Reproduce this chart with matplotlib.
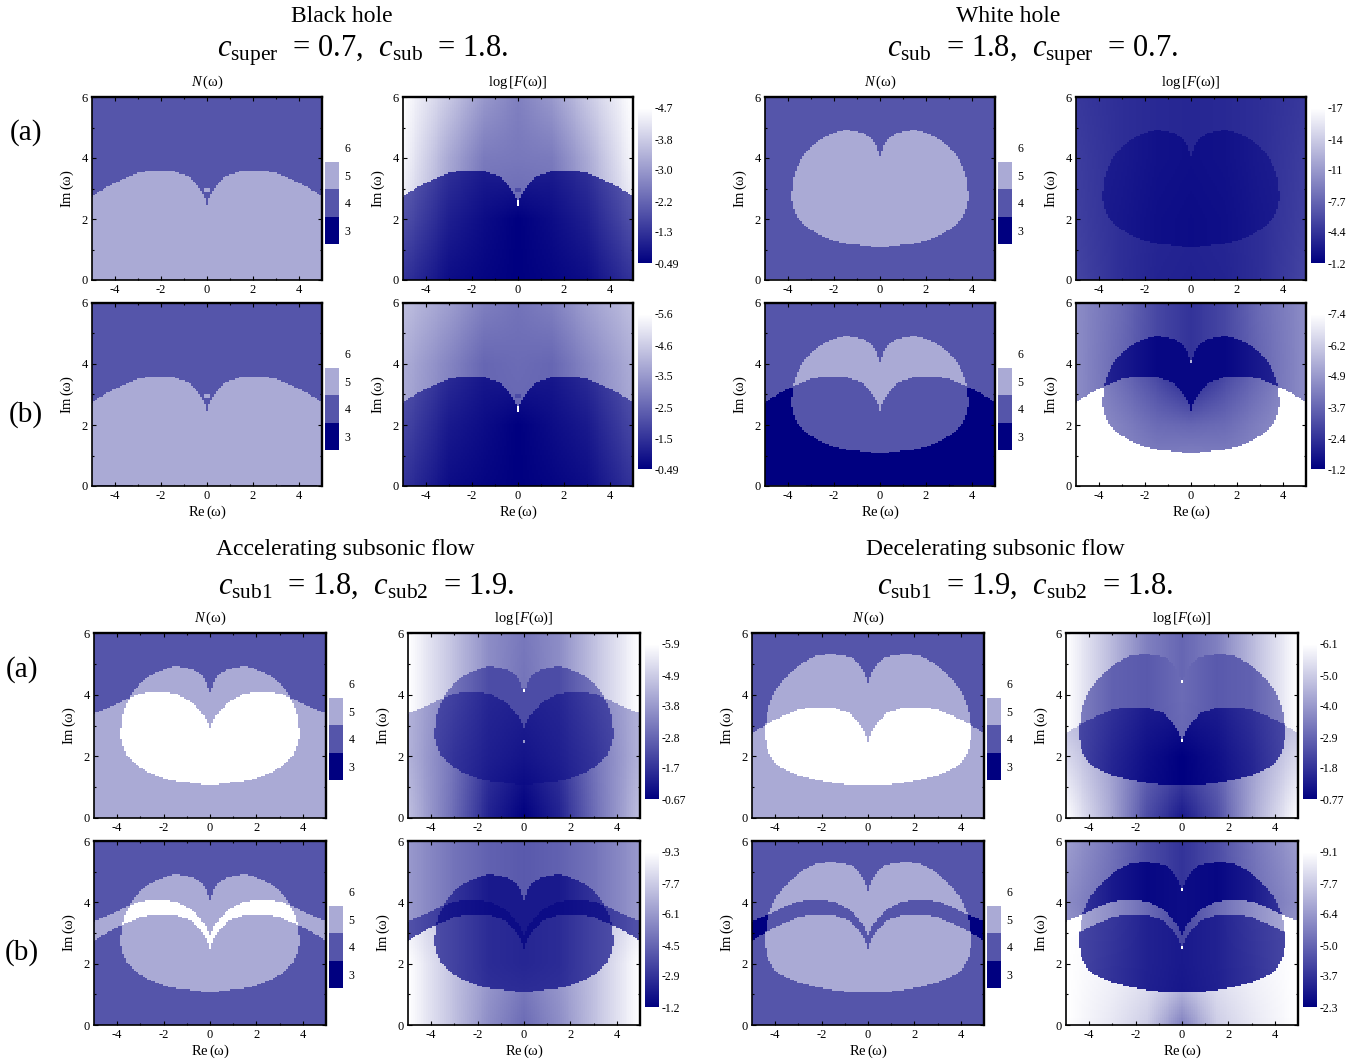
import numpy as np
import matplotlib
matplotlib.use("Agg")
import matplotlib.pyplot as plt
from matplotlib.cm import ScalarMappable
from matplotlib.colors import BoundaryNorm, LinearSegmentedColormap, ListedColormap, Normalize

plt.rcParams['font.family'] = ['Liberation Serif', 'DejaVu Serif']
plt.rcParams['mathtext.fontset'] = 'custom'
plt.rcParams['mathtext.rm'] = 'Liberation Serif'
plt.rcParams['mathtext.it'] = 'Liberation Serif:italic'
plt.rcParams['mathtext.fallback'] = 'stix'
plt.rcParams['axes.unicode_minus'] = False

W, H = 1361, 1061

## region outlines, right half only (mirrored in x)
arch_x = [0, .05, .1, .18, .26, .43, .87, 1.45, 1.9, 2.32, 3.04, 3.77, 4.35, 4.93, 5]
arch_low = [2.46, 2.62, 2.72, 2.85, 2.95, 3.14, 3.43, 3.56, 3.58, 3.59, 3.51, 3.27, 3.05, 2.78, 2.75]
arch_high = [2.93, 3.02, 3.12, 3.24, 3.31, 3.48, 3.8, 4.02, 4.08, 4.09, 4.03, 3.8, 3.58, 3.42, 3.4]

heart_x = [0, .03, .16, .37, .73, 1.1, 1.46, 1.85, 2.18, 2.76, 3.27, 3.6, 3.78, 3.84]
heart_top = [4.05, 4.12, 4.43, 4.65, 4.81, 4.88, 4.92, 4.87, 4.77, 4.53, 4.15, 3.71, 3.28, 2.9]
heart_bot = [1.09, 1.09, 1.09, 1.1, 1.14, 1.17, 1.2, 1.26, 1.33, 1.53, 1.78, 2.06, 2.4, 2.6]

big_x = [0, .07, .22, .43, .72, 1.15, 1.72, 2.23, 2.73, 3.23, 3.66, 4.02, 4.24, 4.38, 4.44]
big_top = [4.37, 4.58, 4.8, 5.02, 5.2, 5.29, 5.32, 5.26, 5.07, 4.8, 4.47, 4.1, 3.72, 3.3, 2.9]
big_bot = [1.06, 1.06, 1.06, 1.07, 1.08, 1.11, 1.17, 1.24, 1.33, 1.45, 1.6, 1.8, 2.03, 2.35, 2.6]

## colourbar labels
bh_a_ticks = ['-0.49', '-1.3', '-2.2', '-3.0', '-3.8', '-4.7']
bh_b_ticks = ['-0.49', '-1.5', '-2.5', '-3.5', '-4.6', '-5.6']
wh_a_ticks = ['-1.2', '-4.4', '-7.7', '-11', '-14', '-17']
wh_b_ticks = ['-1.2', '-2.4', '-3.7', '-4.9', '-6.2', '-7.4']
ac_a_ticks = ['-0.67', '-1.7', '-2.8', '-3.8', '-4.9', '-5.9']
ac_b_ticks = ['-1.2', '-2.9', '-4.5', '-6.1', '-7.7', '-9.3']
de_a_ticks = ['-0.77', '-1.8', '-2.9', '-4.0', '-5.0', '-6.1']
de_b_ticks = ['-2.3', '-3.7', '-5.0', '-6.4', '-7.7', '-9.1']

## N(w) in each region: key is (arches the point lies below, inside heart)
n_bh = {(0, 0): 4, (1, 0): 5}
n_wh_a = {(0, 0): 4, (0, 1): 5}
n_wh_b = {(0, 0): 4, (0, 1): 5, (1, 0): 3, (1, 1): 4}
n_ac_a = {(0, 0): 4, (0, 1): 5, (1, 0): 5, (1, 1): 6}
n_ac_b = {(0, 0): 4, (0, 1): 5, (1, 0): 5, (1, 1): 6, (2, 0): 4, (2, 1): 5}
n_de_a = {(0, 0): 4, (0, 1): 5, (1, 0): 5, (1, 1): 6}
n_de_b = {(0, 0): 4, (0, 1): 5, (1, 0): 3, (1, 1): 4, (2, 0): 4, (2, 1): 5}

## log F brightness (0 navy, 1 white), rows Im = 0,2,4,6, columns |Re| = 0,1.5,3,5
f_bh_a = {
    (0, 0): [[.4, .4, .6, .9], [.4, .42, .62, .9], [.47, .48, .66, .97], [.5, .6, .78, 1]],
    (1, 0): [[0, .02, .05, .2], [0, .05, .12, .32], [.15, .12, .2, .4], [.15, .12, .2, .4]],
}
f_bh_b = {
    (0, 0): [[.4, .4, .5, .65], [.4, .4, .5, .65], [.42, .4, .52, .68], [.45, .5, .62, .75]],
    (1, 0): [[0, .02, .05, .2], [0, .05, .1, .28], [.12, .1, .18, .35], [.12, .1, .18, .35]],
}
f_wh_a = {
    (0, 0): [[.13, .14, .18, .27], [.14, .15, .18, .25], [.15, .16, .18, .24], [.15, .16, .18, .22]],
    (0, 1): [[.05, .06, .09, .12], [.05, .06, .09, .12], [.06, .07, .1, .13], [.06, .07, .1, .13]],
}
f_wh_b = {
    (0, 0): [[.2, .28, .42, .55], [.2, .28, .42, .55], [.2, .28, .4, .55], [.2, .28, .42, .55]],
    (0, 1): [[.03, .03, .1, .2], [.03, .03, .1, .2], [.03, .03, .1, .2], [.03, .03, .1, .2]],
    (1, 0): [[1, 1, 1, 1], [1, 1, 1, 1], [1, 1, 1, 1], [1, 1, 1, 1]],
    (1, 1): [[.6, .55, .55, .6], [.4, .42, .5, .6], [.05, .25, .4, .6], [.05, .25, .4, .6]],
}
f_ac_a = {
    (0, 0): [[.45, .55, .75, 1], [.45, .55, .75, 1], [.45, .55, .75, 1], [.47, .55, .75, 1]],
    (0, 1): [[.3, .3, .45, .6], [.3, .3, .45, .6], [.3, .3, .45, .6], [.3, .3, .45, .6]],
    (1, 0): [[0, .13, .42, .75], [.1, .2, .45, .7], [.2, .3, .5, .7], [.2, .3, .5, .7]],
    (1, 1): [[0, .07, .18, .35], [.08, .12, .2, .35], [.13, .15, .25, .35], [.13, .15, .25, .35]],
}
f_ac_b = {
    (0, 0): [[.35, .38, .45, .6], [.35, .38, .45, .6], [.35, .38, .45, .6], [.35, .38, .45, .6]],
    (0, 1): [[.1, .1, .2, .3], [.1, .1, .2, .3], [.1, .1, .2, .3], [.1, .1, .2, .3]],
    (1, 0): [[.05, .05, .2, .32], [.05, .05, .2, .32], [.05, .05, .2, .32], [.05, .05, .2, .32]],
    (1, 1): [[.05, .05, .08, .12], [.05, .05, .08, .12], [.05, .05, .08, .12], [.05, .05, .08, .12]],
    (2, 0): [[.42, .55, .75, 1], [.5, .6, .75, 1], [.5, .6, .7, .9], [.5, .6, .7, .9]],
    (2, 1): [[.2, .2, .25, .35], [.15, .17, .26, .35], [.15, .17, .26, .35], [.15, .17, .26, .35]],
}
f_de_a = {
    (0, 0): [[.4, .5, .72, 1], [.4, .5, .72, 1], [.4, .5, .72, 1], [.4, .5, .72, 1]],
    (0, 1): [[.4, .35, .38, .55], [.4, .35, .38, .55], [.42, .35, .38, .55], [.42, .35, .38, .55]],
    (1, 0): [[.1, .3, .65, 1], [.3, .4, .62, .85], [.4, .45, .6, .68], [.4, .45, .6, .68]],
    (1, 1): [[0, .03, .12, .3], [0, .06, .15, .32], [.12, .12, .2, .32], [.12, .12, .2, .32]],
}
f_de_b = {
    (0, 0): [[.2, .3, .45, .62], [.2, .3, .45, .62], [.2, .3, .42, .55], [.2, .3, .45, .62]],
    (0, 1): [[.05, .03, .1, .25], [.05, .03, .1, .25], [.05, .03, .1, .25], [.05, .03, .1, .25]],
    (1, 0): [[1, 1, 1, 1], [1, 1, 1, 1], [1, 1, 1, 1], [1, 1, 1, 1]],
    (1, 1): [[.28, .42, .55, .7], [.28, .42, .55, .7], [.28, .42, .55, .7], [.28, .42, .55, .7]],
    (2, 0): [[.5, .8, .9, 1], [.85, .9, .95, 1], [.9, .93, .97, 1], [.9, .93, .97, 1]],
    (2, 1): [[.08, .12, .18, .25], [.1, .13, .2, .3], [.1, .13, .22, .3], [.1, .13, .22, .3]],
}

## bright specks on the Re = 0 column of the log F maps: (Im from, Im to, brightness)
spk_bh = [(2.45, 2.62, 1)]
spk_wh = [(4.03, 4.12, .7)]
spk_ac = [(4.07, 4.17, 1), (2.42, 2.5, .6)]
spk_de = [(4.38, 4.46, 1), (2.47, 2.58, 1)]

## the small square above the black hole cusp: Re half width, Im centre, Im half height
bh_square = (0.09, 2.95, 0.08)
bh_square_n = 5
bh_square_f = .3

## thin bottom-row flaw in some N maps: panel, step in N, |Re| from, |Re| to
edge_flaws = {('bh', 1): (-1, 3.2, 4.8), ('wh', 0): (1, 3.2, 5), ('wh', 1): (1, 3.2, 5)}

## panel rows: arches, heart outline, N map, F map, colourbar labels, specks
panels = {
    'bh': [([arch_low], None, n_bh, f_bh_a, bh_a_ticks, spk_bh),
           ([arch_low], None, n_bh, f_bh_b, bh_b_ticks, spk_bh)],
    'wh': [([], (heart_x, heart_top, heart_bot), n_wh_a, f_wh_a, wh_a_ticks, []),
           ([arch_low], (heart_x, heart_top, heart_bot), n_wh_b, f_wh_b, wh_b_ticks, spk_wh)],
    'ac': [([arch_high], (heart_x, heart_top, heart_bot), n_ac_a, f_ac_a, ac_a_ticks, spk_ac),
           ([arch_high, arch_low], (heart_x, heart_top, heart_bot), n_ac_b, f_ac_b, ac_b_ticks, [])],
    'de': [([arch_low], (big_x, big_top, big_bot), n_de_a, f_de_a, de_a_ticks, spk_de),
           ([arch_high, arch_low], (big_x, big_top, big_bot), n_de_b, f_de_b, de_b_ticks, spk_de)],
}

## pixel boxes of the axes
n_left = {'bh': (92, 322), 'wh': (765, 995), 'ac': (94, 326), 'de': (752, 984)}
f_left = {'bh': (403, 633), 'wh': (1076, 1306), 'ac': (408, 640), 'de': (1066, 1298)}
rows_y = {'bh': [(97, 280), (303, 486)], 'wh': [(97, 280), (303, 486)],
          'ac': [(633, 818), (841, 1025)], 'de': [(633, 818), (841, 1025)]}

cmap = LinearSegmentedColormap.from_list('navy_white', ['#000080', '#ffffff'])
n_cmap = ListedColormap(['#000080', '#5555aa', '#aaaad5', '#ffffff'])

fig = plt.figure(figsize=(W / 100, H / 100), dpi=100)


def box(x0, y0, x1, y1):
    return fig.add_axes([x0 / W, 1 - y1 / H, (x1 - x0) / W, (y1 - y0) / H])


gx = np.linspace(-5, 5, 121)
gy = np.linspace(0, 6, 121)
X, Y = np.meshgrid(gx, gy)
AX = np.abs(X)


def zones(arches, heart):
    below = np.zeros_like(X, dtype=int)
    for a in arches:
        below += Y < np.interp(AX, arch_x, a)
    inside = np.zeros_like(X, dtype=int)
    if heart is not None:
        hx, top, bot = heart
        inside = ((AX <= hx[-1]) & (Y <= np.interp(AX, hx, top)) & (Y >= np.interp(AX, hx, bot))).astype(int)
    return below, inside


tab_x = [0, 1.5, 3, 5]
tab_y = [0, 2, 4, 6]


def lookup(table):
    table = np.array(table)
    across = np.array([np.interp(AX, tab_x, r) for r in table])
    out = np.zeros_like(X)
    for j in range(X.shape[0]):
        for i in range(X.shape[1]):
            out[j, i] = np.interp(Y[j, i], tab_y, across[:, j, i])
    return out


def dress(ax, title, xlab):
    ax.set_xlim(-5, 5)
    ax.set_ylim(0, 6)
    ax.set_xticks([-4, -2, 0, 2, 4])
    ax.set_xticks([-3, -1, 1, 3], minor=True)
    ax.set_yticks([0, 2, 4, 6])
    ax.set_yticks([1, 3, 5], minor=True)
    ax.tick_params(which='both', direction='in', top=True, right=True, labelsize=9, pad=3, width=0.8)
    ax.tick_params(which='major', length=3)
    ax.tick_params(which='minor', length=1.5)
    for s in ax.spines.values():
        s.set_linewidth(1.2)
    ax.spines['top'].set_linewidth(1.7)
    ax.spines['right'].set_linewidth(1.7)
    if title:
        ax.set_title(title, fontsize=10.5, pad=8)
    ax.set_ylabel(r'Im$\,$($\mathrm{\omega}$)', fontsize=10.5, labelpad=4)
    if xlab:
        ax.set_xlabel(r'Re$\,$($\mathrm{\omega}$)', fontsize=10.5, labelpad=1)


for key in panels:
    for r, (arches, heart, n_map, f_map, ticks, specks) in enumerate(panels[key]):
        y0, y1 = rows_y[key][r]
        below, inside = zones(arches, heart)

        nx0, nx1 = n_left[key]
        ax = box(nx0, y0, nx1, y1)
        nvals = np.full(X.shape, 4.0)
        for (b, i), v in n_map.items():
            nvals[(below == b) & (inside == i)] = v
        if key == 'bh':
            nvals[(AX <= bh_square[0]) & (np.abs(Y - bh_square[1]) <= bh_square[2])] = bh_square_n
        if (key, r) in edge_flaws:
            step, lo, hi = edge_flaws[(key, r)]
            nvals[0, (AX[0] >= lo) & (AX[0] <= hi)] += step
        ax.pcolormesh(gx, gy, nvals, cmap=cmap, norm=Normalize(3, 6), shading='nearest')
        dress(ax, r'$N\,$($\mathrm{\omega}$)' if r == 0 else None, r == 1)

        cax = box(nx1 + 3, y0 + 37, nx1 + 17, y0 + 147)
        cb = fig.colorbar(ScalarMappable(BoundaryNorm([2.5, 3.5, 4.5, 5.5, 6.5], 4), n_cmap), cax=cax, ticks=[3, 4, 5, 6])
        cb.ax.minorticks_off()
        cb.outline.set_visible(False)
        cb.ax.tick_params(which='both', length=0, labelsize=8.5, pad=4)

        fx0, fx1 = f_left[key]
        ax = box(fx0, y0, fx1, y1)
        fvals = np.zeros_like(X)
        for (b, i), table in f_map.items():
            mask = (below == b) & (inside == i)
            fvals[mask] = lookup(table)[mask]
        if key == 'bh':
            fvals[(AX <= bh_square[0]) & (np.abs(Y - bh_square[1]) <= bh_square[2])] = bh_square_f
        for lo, hi, v in specks:
            fvals[(AX < 0.01) & (Y >= lo) & (Y <= hi)] = v
        ax.pcolormesh(gx, gy, fvals, cmap=cmap, norm=Normalize(0, 1), shading='nearest')
        dress(ax, r'log$\,$[$F$($\mathrm{\omega}$)]' if r == 0 else None, r == 1)

        cax = box(fx1 + 5, y0 + 11, fx1 + 19, y0 + 166)
        cb = fig.colorbar(ScalarMappable(Normalize(0, 1), cmap), cax=cax, ticks=np.linspace(0, 1, 6))
        cb.ax.set_yticklabels(ticks)
        cb.outline.set_visible(False)
        cb.ax.tick_params(length=0, labelsize=8.5, pad=2)


def label(x, y, s, size):
    fig.text(x / W, 1 - y / H, s, fontsize=size, ha='center', va='center')


label(342, 17, 'Black hole', 17)
label(363, 51, r'$c_{\mathrm{super}}$  = 0.7,  $c_{\mathrm{sub}}$  = 1.8.', 22)
label(1008, 17, 'White hole', 17)
label(1033, 51, r'$c_{\mathrm{sub}}$  = 1.8,  $c_{\mathrm{super}}$  = 0.7.', 22)
label(345, 550, 'Accelerating subsonic flow', 17)
label(366, 586, r'$c_{\mathrm{sub1}}$  = 1.8,  $c_{\mathrm{sub2}}$  = 1.9.', 22)
label(995, 550, 'Decelerating subsonic flow', 17)
label(1025, 586, r'$c_{\mathrm{sub1}}$  = 1.9,  $c_{\mathrm{sub2}}$  = 1.8.', 22)

label(26, 133, '(a)', 21)
label(26, 415, '(b)', 21)
label(22, 670, '(a)', 21)
label(22, 953, '(b)', 21)

fig.savefig('out.png', dpi=100)
